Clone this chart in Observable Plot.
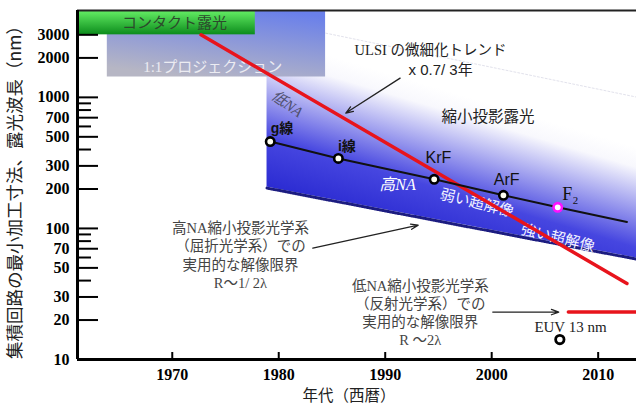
<!DOCTYPE html>
<html><head><meta charset="utf-8">
<script src="https://cdn.jsdelivr.net/npm/d3@7"></script>
<script src="https://cdn.jsdelivr.net/npm/@observablehq/plot@0.6"></script>
<style>body{margin:0;background:#fff;} svg{display:block;}</style>
</head><body><div id="chart"></div>
<script>
// ---- scales ----
const xDomain = [1961.1, 2013.6];
const yDomain = [10, 4600];
const yTickLabels = [3000, 2000, 1000, 700, 500, 300, 200, 100, 70, 50, 30, 20, 10];
const yMinorTicks = [900, 800, 600, 400, 90, 80, 60, 40];
const xTickLabels = [1970, 1980, 1990, 2000, 2010];

// ---- exposure regions (contact, 1:1 projection) ----
const regionNames = ["projection", "contact"];
const regionYearStart = [1963.9, 1961.1];
const regionYearEnd = [1984.4, 1977.8];
const regionNmLow = [1430, 3000];
const regionNmHigh = [4600, 4600];

// ---- reduction projection band ----
const bandYears = [1978.9, 2013.6];
const bandLimitNm = [203, 58.3];   // high-NA practical resolution limit
const bandTopNm = [3820, 1005];

// ---- ULSI trend (x0.7 / 3 years) ----
const trendYears = [1972.7, 2012.7];
const trendNm = [3000, 38];

// ---- light sources ----
const sourceNames = ["g線", "i線", "KrF", "ArF", "F₂"];
const sourceYears = [1979.2, 1985.6, 1994.6, 2001.1, 2006.2];
const sourceNm = [460, 342, 237, 179, 145];
const sourceLineEndYear = 2012.7;
const sourceLineEndNm = 112;
const sourceLabelYears = [1980.3, 1986.4, 1995.0, 2001.4, 2007.4];
const sourceLabelNm = [583, 425, 344, 234, 183];

// ---- EUV ----
const euvYear = [2006.4];
const euvNm = [14.2];
const euvLimitYears = [2007.2, 2013.6];
const euvLimitNm = [23, 23];

// ---- arrows ----
const arrowNames = ["ulsi", "highNA", "lowNA"];
const arrowYear1 = [1991.4, 1983.2, 2000.1];
const arrowNm1 = [1403, 70.8, 23];
const arrowYear2 = [1986.3, 1993.1, 2006.3];
const arrowNm2 = [759, 106, 23];

// ---- annotation texts ----
const noteKeys = ["contact", "projection", "lowNA", "reduction", "ulsi1", "ulsi2", "highNA", "weakSR", "strongSR", "block1", "block2", "euv"];
const noteTexts = [
  "コンタクト露光",
  "1:1プロジェクション",
  "低NA",
  "縮小投影露光",
  "ULSI の微細化トレンド",
  "x 0.7/ 3年",
  "高NA",
  "弱い超解像",
  "強い超解像",
  "高NA縮小投影光学系\n（屈折光学系）での\n実用的な解像限界\nR～1/ 2λ",
  "低NA縮小投影光学系\n（反射光学系）での\n実用的な解像限界\nR ～2λ",
  "EUV 13 nm"
];
const noteYears = [1970.2, 1973.8, 1980.8, 1999.65, 1994.25, 1995.2, 1991.15, 1998.6, 2006.2, 1976.4, 1993.3, 2007.4];
const noteNm = [3690, 1702, 889, 707, 2296, 1615, 214, 156, 84.4, 63, 23, 17.7];

const yTitle = "集積回路の最小加工寸法、露光波長（nm）";
const xTitle = "年代（西暦）";

// ---- build tables ----
const regions = regionNames.map((n, i) => ({name: n, x1: regionYearStart[i], x2: regionYearEnd[i], y1: regionNmLow[i], y2: regionNmHigh[i]}));
const band = bandYears.map((x, i) => ({year: x, low: bandLimitNm[i], high: bandTopNm[i]}));
const trend = trendYears.map((x, i) => ({year: x, nm: trendNm[i]}));
const sources = sourceNames.map((n, i) => ({name: n, year: sourceYears[i], nm: sourceNm[i], ly: sourceLabelYears[i], lnm: sourceLabelNm[i]}));
const sourceLine = sources.map(d => ({year: d.year, nm: d.nm})).concat([{year: sourceLineEndYear, nm: sourceLineEndNm}]);
const euv = euvYear.map((x, i) => ({year: x, nm: euvNm[i]}));
const euvLimit = euvLimitYears.map((x, i) => ({year: x, nm: euvLimitNm[i]}));
const arrows = arrowNames.map((n, i) => ({name: n, x1: arrowYear1[i], y1: arrowNm1[i], x2: arrowYear2[i], y2: arrowNm2[i]}));
const notes = noteKeys.map((k, i) => ({key: k, text: noteTexts[i], year: noteYears[i], nm: noteNm[i]}));

const JP = "'Liberation Serif', 'Noto Sans CJK JP', serif";
const SANS = "'Liberation Sans', 'Noto Sans CJK JP', sans-serif";
const NUM = "'Liberation Serif', serif";
const note = (k, style) => Plot.text(notes.filter(d => d.key === k), {x: "year", y: "nm", text: "text", fontFamily: JP, ...style});

const chart = Plot.plot({
  width: 636,
  height: 405,
  marginLeft: 77,
  marginRight: 0,
  marginTop: 10,
  marginBottom: 46,
  style: {background: "#fff"},
  x: {type: "linear", domain: xDomain, axis: null},
  y: {type: "log", domain: yDomain, axis: null},
  marks: [
    // reduction projection band
    Plot.areaY(band, {x: "year", y1: "low", y2: "high", fill: "url(#bandGrad)"}),
    Plot.line(band, {x: "year", y: "high", stroke: "#e2e2ec", strokeWidth: 1, strokeDasharray: "2 2"}),
    Plot.line(band, {x: "year", y: "low", stroke: "#ffffff", strokeWidth: 3}),
    Plot.line(band, {x: "year", y: "low", stroke: "#1c1c80", strokeWidth: 3, strokeDasharray: "1.3 1.3"}),
    // regions
    Plot.rect(regions.filter(d => d.name === "projection"), {x1: "x1", x2: "x2", y1: "y1", y2: "y2", fill: "url(#projGrad)"}),
    Plot.rect(regions.filter(d => d.name === "contact"), {x1: "x1", x2: "x2", y1: "y1", y2: "y2", fill: "url(#contactGrad)"}),
    note("contact", {fill: "#2c4a2c", fontSize: 15}),
    note("projection", {fill: "#ececf2", fontSize: 15}),
    note("lowNA", {fill: "#50506e", fontSize: 15, fontStyle: "italic", rotate: 36}),
    note("highNA", {fill: "#ffffff", fontSize: 16, fontStyle: "italic"}),
    note("weakSR", {fill: "#f4f4ff", fontSize: 15, rotate: 14}),
    note("strongSR", {fill: "#f4f4ff", fontSize: 15, rotate: 14}),
    // trend
    Plot.line(trend, {x: "year", y: "nm", stroke: "#e8141c", strokeWidth: 3.5}),
    Plot.line(euvLimit, {x: "year", y: "nm", stroke: "#e8141c", strokeWidth: 3.5}),
    // light sources
    Plot.line(sourceLine, {x: "year", y: "nm", stroke: "#111", strokeWidth: 2}),
    Plot.dot(sources.filter(d => d.name !== "F₂"), {x: "year", y: "nm", r: 4.2, fill: "#fffff0", stroke: "#000", strokeWidth: 2.6}),
    Plot.dot(sources.filter(d => d.name === "F₂"), {x: "year", y: "nm", r: 4.2, fill: "#fff", stroke: "#ff10ff", strokeWidth: 2.6}),
    Plot.text(sources.filter(d => d.name.endsWith("線")), {x: "ly", y: "lnm", text: "name", fontFamily: SANS, fontSize: 14, fontWeight: "bold", fill: "#111"}),
    Plot.text(sources.filter(d => d.name === "KrF" || d.name === "ArF"), {x: "ly", y: "lnm", text: "name", fontFamily: SANS, fontSize: 16, fill: "#111"}),
    Plot.text(sources.filter(d => d.name === "F₂"), {x: "ly", y: "lnm", text: "name", fontFamily: JP, fontSize: 18, fill: "#111"}),
    // EUV
    Plot.dot(euv, {x: "year", y: "nm", r: 4.2, fill: "#fff", stroke: "#000", strokeWidth: 2.8}),
    note("euv", {fill: "#222", fontSize: 15}),
    // annotations
    note("reduction", {fill: "#222", fontSize: 15.5}),
    note("ulsi1", {fill: "#222", fontSize: 14.5}),
    note("ulsi2", {fill: "#222", fontSize: 15, fontFamily: SANS}),
    note("block1", {fill: "#444", fontSize: 14.5, lineHeight: 1.25}),
    note("block2", {fill: "#444", fontSize: 14.5, lineHeight: 1.25}),
    Plot.arrow(arrows, {x1: "x1", y1: "y1", x2: "x2", y2: "y2", stroke: "#222", strokeWidth: 1.3, headLength: 9, headAngle: 40}),
    // axes: inward ticks
    Plot.axisY(yTickLabels, {anchor: "left", tickSize: 21, dx: 21, fill: "none", stroke: "#000", strokeWidth: 2, label: null}),
    Plot.axisY(yMinorTicks, {anchor: "left", tickSize: 14, dx: 14, fill: "none", stroke: "#000", strokeWidth: 2, label: null}),
    Plot.axisX(xTickLabels, {anchor: "bottom", tickSize: 7, dy: -7, fill: "none", stroke: "#000", strokeWidth: 2, label: null}),
    // tick labels
    Plot.text(yTickLabels, {y: d => d, text: d => String(d), frameAnchor: "left", textAnchor: "end", dx: -8, fontSize: 16, fontWeight: "bold", fontFamily: NUM, fill: "#000"}),
    Plot.text(xTickLabels, {x: d => d, text: d => String(d), frameAnchor: "bottom", lineAnchor: "middle", dy: 15, fontSize: 16, fontWeight: "bold", fontFamily: NUM, fill: "#000"}),
    // frame
    Plot.ruleY([yDomain[1]], {stroke: "#222", strokeWidth: 2}),
    Plot.ruleY([yDomain[0]], {stroke: "#000", strokeWidth: 3}),
    Plot.ruleX([xDomain[0]], {stroke: "#000", strokeWidth: 3}),
    // axis titles
    Plot.text([yTitle], {frameAnchor: "left", textAnchor: "middle", lineAnchor: "middle", dx: -62, dy: 3, rotate: -90, fontSize: 17.5, fontFamily: "'Noto Sans CJK JP', sans-serif", fill: "#222"}),
    Plot.text([xTitle], {frameAnchor: "bottom", textAnchor: "middle", lineAnchor: "middle", dx: -8, dy: 37, fontSize: 15.5, fontFamily: "'Noto Sans CJK JP', sans-serif", fill: "#222"})
  ]
});

const defs = d3.select(chart).insert("defs", ":first-child");
const g1 = defs.append("linearGradient").attr("id", "bandGrad")
  .attr("x1", 0.5).attr("y1", 0.3).attr("x2", 0.232).attr("y2", 0.88);
g1.append("stop").attr("offset", 0).attr("stop-color", "#ffffff");
g1.append("stop").attr("offset", 0.12).attr("stop-color", "#f8f8fd");
g1.append("stop").attr("offset", 0.6).attr("stop-color", "#4646e0");
g1.append("stop").attr("offset", 0.95).attr("stop-color", "#2626cf");
const g2 = defs.append("linearGradient").attr("id", "projGrad")
  .attr("x1", 0.75).attr("y1", 0).attr("x2", 0.35).attr("y2", 1);
g2.append("stop").attr("offset", 0).attr("stop-color", "#6a80ea");
g2.append("stop").attr("offset", 1).attr("stop-color", "#b6b6c4");
const g3 = defs.append("linearGradient").attr("id", "contactGrad")
  .attr("x1", 0).attr("y1", 0).attr("x2", 0).attr("y2", 1);
g3.append("stop").attr("offset", 0).attr("stop-color", "#66f066");
g3.append("stop").attr("offset", 1).attr("stop-color", "#0c8c1c");

document.getElementById("chart").appendChild(chart);
</script>
</body></html>
